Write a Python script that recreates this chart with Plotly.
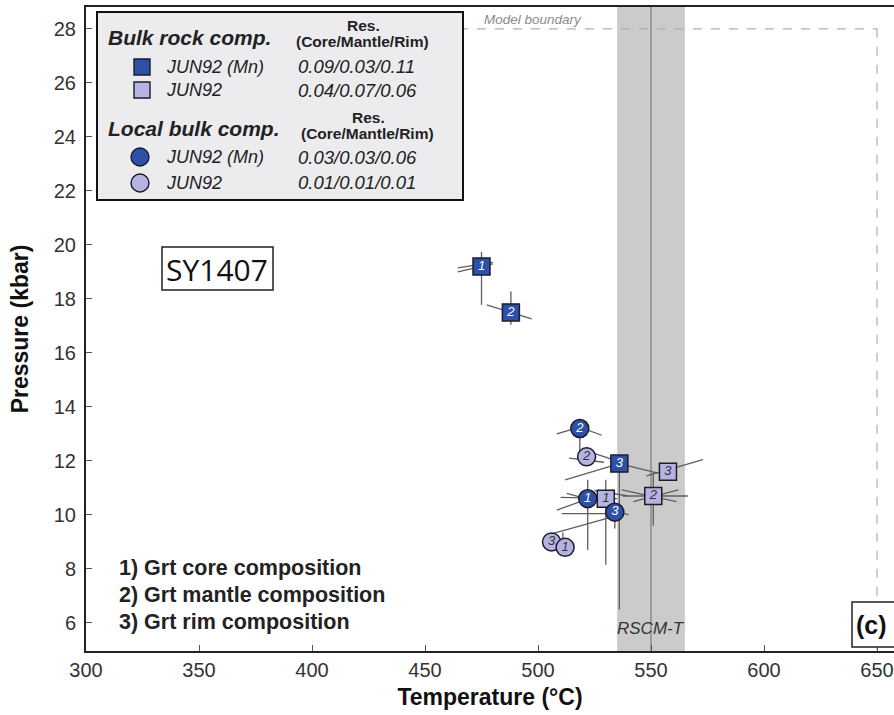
import plotly.graph_objects as go

# ---------------- data ----------------
point_labels = ["1", "2", "3"]  # core / mantle / rim

bulk_mn_T = [475, 488, 536]
bulk_mn_P = [19.2, 17.5, 11.9]
bulk_T = [530, 551, 557.5]
bulk_P = [10.6, 10.7, 11.6]
local_mn_T = [522, 518.5, 534]
local_mn_P = [10.6, 13.2, 10.1]
local_T = [512, 521.5, 506]
local_P = [8.8, 12.15, 9.0]

# uncertainty segments (T1, P1, T2, P2)
err_segments = [
    (475, 19.74, 475, 17.78), (464.5, 19.0, 480, 19.3), (464.5, 19.15, 480, 19.35),
    (488, 18.27, 488, 17.04), (477.3, 17.78, 497.2, 17.26),
    (536, 12.2, 536, 6.5), (512, 11.3, 536, 11.9), (536, 11.9, 553, 11.55),
    (530, 11.3, 530, 8.15), (510.5, 10.05, 537.7, 10.05), (525, 10.9, 540, 10.7),
    (551, 11.55, 551, 9.6), (537.5, 10.7, 566.3, 10.7), (542.2, 10.49, 562.1, 10.93),
    (537, 10.93, 561.3, 10.49),
    (548, 11.45, 573, 12.05),
    (522, 11.3, 522, 8.7), (508.3, 10.18, 533.3, 10.93), (512.7, 10.8, 532, 10.35),
    (510, 10.65, 535, 10.6),
    (508.3, 13.0, 518.5, 13.25), (518.5, 13.25, 528.2, 12.95), (518.5, 13.2, 518.5, 12.3),
    (534, 10.1, 534, 9.5), (506, 9.3, 533.3, 9.94), (528, 10.35, 540, 10.0),
    (511, 9.35, 511, 8.5),
    (513.8, 12.1, 529.2, 11.95), (524, 12.3, 535, 12.0),
]

rscm_T = 550
rscm_err = 15
model_T_max = 650
model_P_max = 28

x_ticks = [300, 350, 400, 450, 500, 550, 600, 650]
y_ticks = [6, 8, 10, 12, 14, 16, 18, 20, 22, 24, 26, 28]

legend_rows = [
    ("JUN92 (Mn)", "0.09/0.03/0.11"),
    ("JUN92", "0.04/0.07/0.06"),
    ("JUN92 (Mn)", "0.03/0.03/0.06"),
    ("JUN92", "0.01/0.01/0.01"),
]
note_lines = ["1) Grt core composition", "2) Grt mantle composition", "3) Grt rim composition"]

DARK = "#2d50a8"
LIGHT = "#b5b3e2"
FONT = "Liberation Sans, Arial, sans-serif"

W, H = 894, 715
ML, MR, MT, MB = 86, 0, 7, 64
PW, PH = W - ML - MR, H - MT - MB


def px(x):
    return (x - ML) / PW


def py(y):
    return (H - MB - y) / PH


fig = go.Figure()

# uncertainty lines
ex, ey = [], []
for t1, p1, t2, p2 in err_segments:
    ex += [t1, t2, None]
    ey += [p1, p2, None]
fig.add_trace(go.Scatter(x=ex, y=ey, mode="lines", line=dict(color="#5e5e5e", width=1.3),
                         hoverinfo="skip", showlegend=False))


def add_points(T, P, labels, symbol, fill, txtcolor, size):
    fig.add_trace(go.Scatter(
        x=T, y=P, mode="markers+text", text=labels,
        textposition="middle center",
        textfont=dict(family=FONT, size=13, color=txtcolor, style="italic"),
        marker=dict(symbol=symbol, size=size, color=fill, line=dict(color="#1c1c2c", width=1.5)),
        showlegend=False, cliponaxis=False))


add_points(bulk_T, bulk_P, point_labels, "square", LIGHT, "#333333", 17)
add_points(bulk_mn_T, bulk_mn_P, point_labels, "square", DARK, "white", 17)
# draw rim first so core sits on top
add_points(local_T[::-1], local_P[::-1], point_labels[::-1], "circle", LIGHT, "#333333", 18)
add_points(local_mn_T, local_mn_P, point_labels, "circle", DARK, "white", 18)

shapes = []
# RSCM band
shapes.append(dict(type="rect", xref="x", yref="paper", x0=rscm_T - rscm_err, x1=rscm_T + rscm_err,
                   y0=0, y1=1, fillcolor="#cbcbcb", line=dict(width=0), layer="below"))
shapes.append(dict(type="line", xref="x", yref="paper", x0=rscm_T, x1=rscm_T, y0=0, y1=1,
                   line=dict(color="#9a9a9a", width=2), layer="below"))
# model boundary
shapes.append(dict(type="line", xref="x", yref="y", x0=465, x1=model_T_max, y0=model_P_max, y1=model_P_max,
                   line=dict(color="#b0b0b0", width=1.2, dash="dash"), layer="below"))
shapes.append(dict(type="line", xref="x", yref="y", x0=model_T_max, x1=model_T_max, y0=model_P_max, y1=4.96,
                   line=dict(color="#b0b0b0", width=1.2, dash="dash"), layer="below"))
# legend box
shapes.append(dict(type="rect", xref="paper", yref="paper", x0=px(97), x1=px(463), y0=py(200), y1=py(12),
                   fillcolor="#ececef", line=dict(color="#111111", width=2)))
# legend symbols
for cy, col in [(67, DARK), (90, LIGHT)]:
    shapes.append(dict(type="rect", xref="paper", yref="paper", x0=px(134), x1=px(150),
                       y0=py(cy + 8), y1=py(cy - 8), fillcolor=col, line=dict(color="#1c1c2c", width=1.4)))
for cy, col in [(157, DARK), (183, LIGHT)]:
    shapes.append(dict(type="circle", xref="paper", yref="paper", x0=px(131), x1=px(149),
                       y0=py(cy + 9), y1=py(cy - 9), fillcolor=col, line=dict(color="#1c1c2c", width=1.4)))
# sample box
shapes.append(dict(type="rect", xref="paper", yref="paper", x0=px(162), x1=px(273), y0=py(290), y1=py(247),
                   fillcolor="white", line=dict(color="#222222", width=1.5)))
# (c) box
shapes.append(dict(type="rect", xref="paper", yref="paper", x0=px(852), x1=px(905), y0=py(647), y1=py(602),
                   fillcolor="white", line=dict(color="#222222", width=1.5)))

ann = []


def txt(x, y, s, size, color="#222222", xanchor="left", family=FONT):
    ann.append(dict(xref="paper", yref="paper", x=px(x), y=py(y), text=s, showarrow=False,
                    xanchor=xanchor, yanchor="middle", font=dict(family=family, size=size, color=color)))


txt(106, 37, "<b><i>Bulk rock comp.</i></b>", 21)
txt(106, 128, "<b><i>Local bulk comp.</i></b>", 21)
txt(363, 25, "<b>Res.</b>", 15.5, xanchor="center")
txt(362, 41, "<b>(Core/Mantle/Rim)</b>", 15.5, xanchor="center")
txt(368, 117, "<b>Res.</b>", 15.5, xanchor="center")
txt(367, 133, "<b>(Core/Mantle/Rim)</b>", 15.5, xanchor="center")
for (name, res), cy in zip(legend_rows, [67, 90, 157, 183]):
    txt(164, cy, "<i>" + name + "</i>", 18)
    txt(296, cy, "<i>" + res + "</i>", 18.5)

txt(217, 269, "SY1407", 30, color="#111111", xanchor="center", family="Open Sans, sans-serif")

for line, cy in zip(note_lines, [568, 595, 622]):
    txt(117, cy, "<b>" + line + "</b>", 21.5)

txt(871, 625, "<b>(c)</b>", 25, color="#111111", xanchor="center")

ann.append(dict(xref="x", yref="y", x=498, y=model_P_max, yanchor="bottom", text="<i>Model boundary</i>",
                showarrow=False, font=dict(family=FONT, size=13.5, color="#8a8a8a")))
ann.append(dict(xref="x", yref="paper", x=rscm_T, y=py(628), yanchor="middle", text="<i>RSCM-T</i>",
                showarrow=False, font=dict(family=FONT, size=17, color="#333333")))

fig.update_layout(
    width=W, height=H, margin=dict(l=ML, r=MR, t=MT, b=MB),
    plot_bgcolor="white", paper_bgcolor="white",
    shapes=shapes, annotations=ann, showlegend=False,
    font=dict(family=FONT, color="#333333"),
)
fig.update_xaxes(range=[300, 300 + PW / 2.26], tickvals=x_ticks, ticks="inside", ticklen=6,
                 tickcolor="#555555", showgrid=False, zeroline=False, showline=True, linecolor="#222222",
                 linewidth=2, mirror=True, tickfont=dict(family=FONT, size=20, color="#333333"),
                 title=dict(text="<b>Temperature (°C)</b>", font=dict(family=FONT, size=23, color="#111111"),
                            standoff=9))
fig.update_yaxes(range=[4.96, 28.81], tickvals=y_ticks, ticks="inside", ticklen=6,
                 tickcolor="#555555", showgrid=False, zeroline=False, showline=True, linecolor="#222222",
                 linewidth=2, tickfont=dict(family=FONT, size=20, color="#333333"), ticklabelstandoff=4,
                 title=dict(text="<b>Pressure (kbar)</b>", font=dict(family=FONT, size=23, color="#111111"),
                            standoff=19))

fig.write_html("out.html")
